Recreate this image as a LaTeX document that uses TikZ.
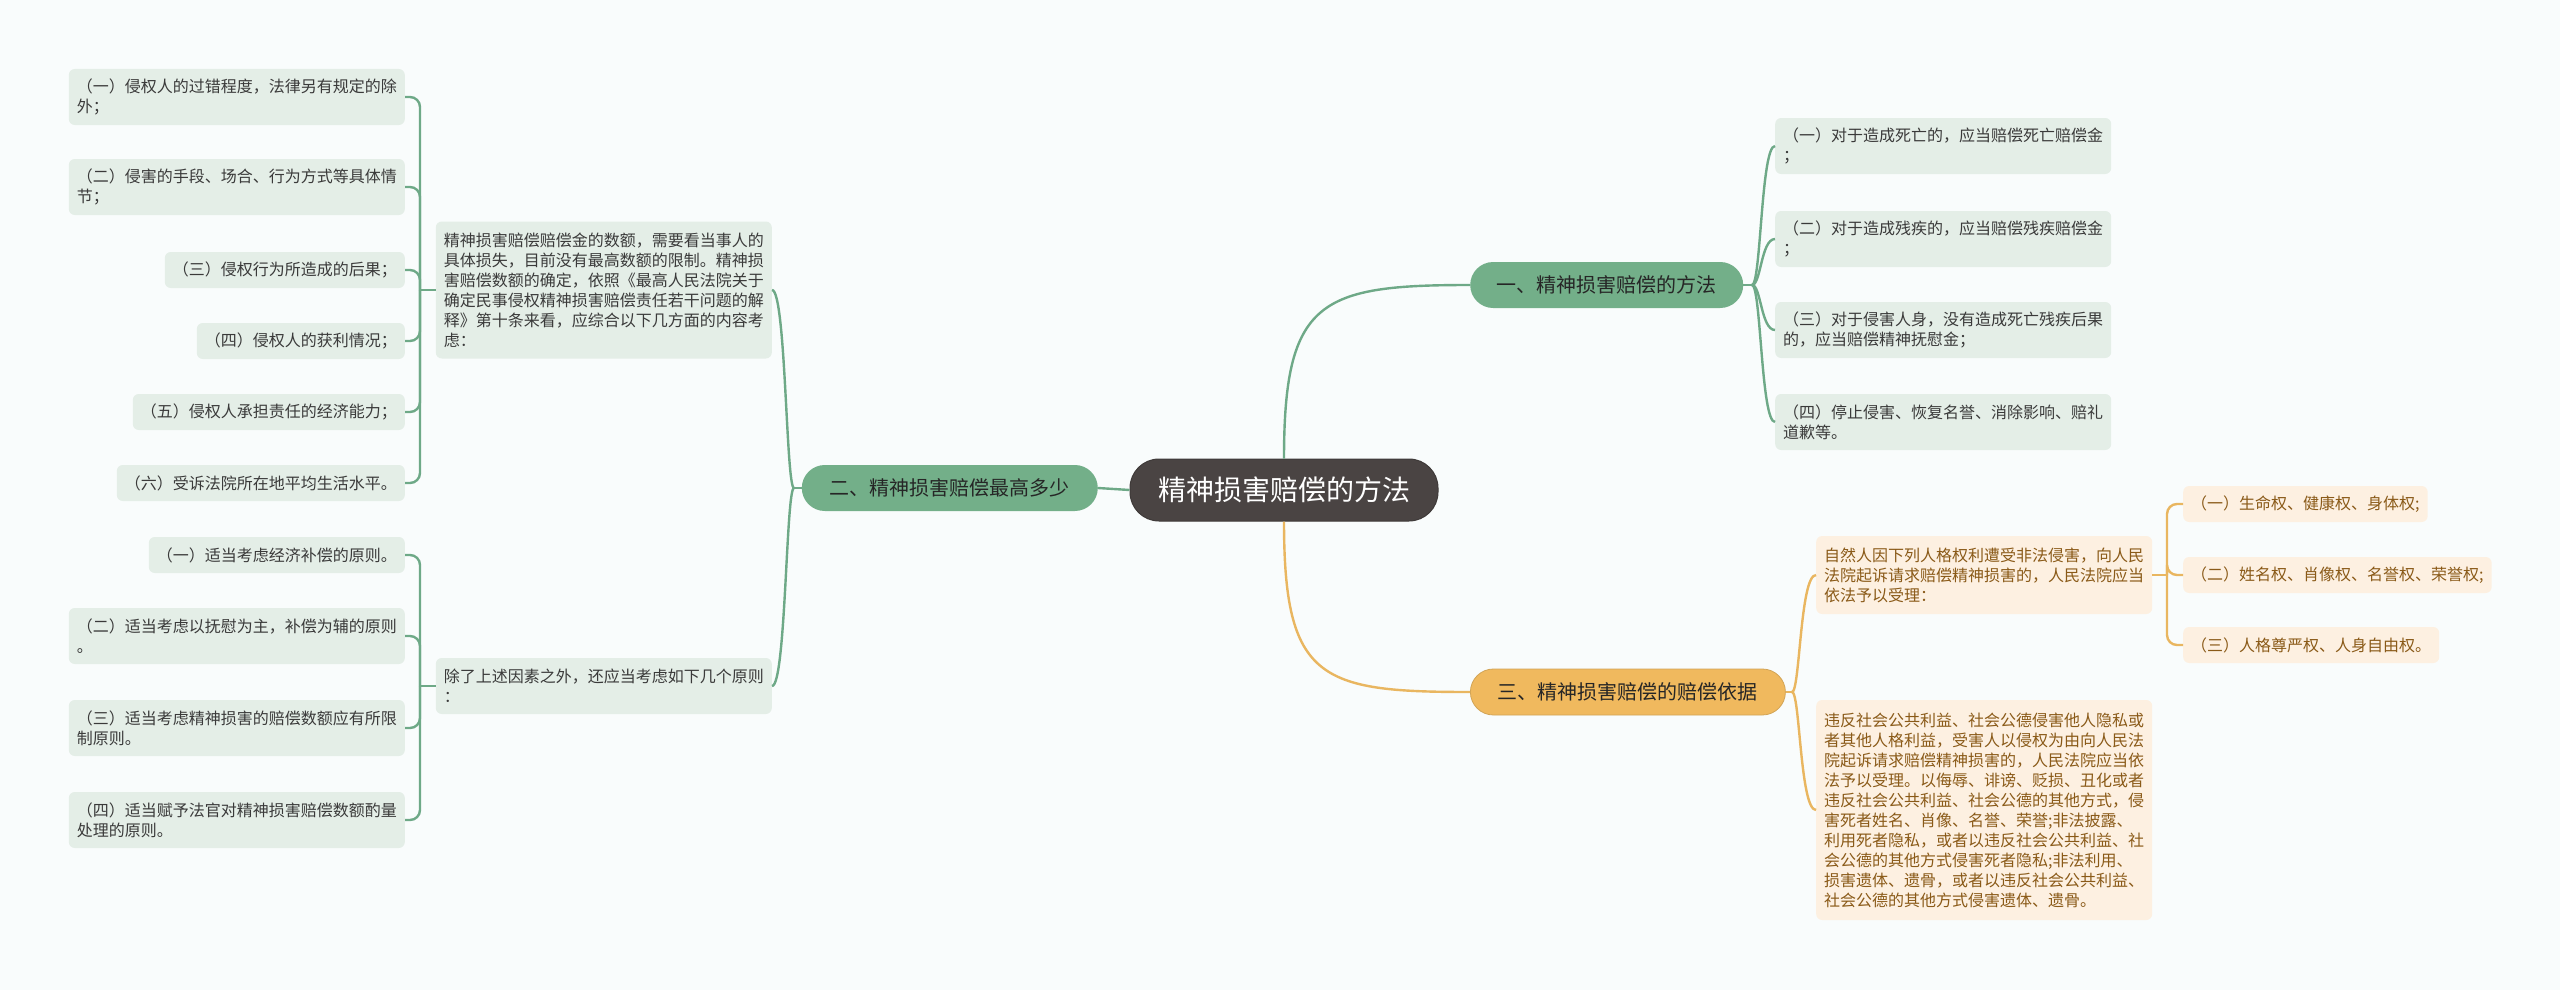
\documentclass[tikz,border=0pt]{standalone}
\usepackage{fontspec}
\setmainfont{Noto Sans CJK SC}
\definecolor{bgc}{HTML}{F9FCFC}
\definecolor{glinec}{HTML}{6EA987}
\definecolor{gbrc}{HTML}{73AF89}
\definecolor{gleafc}{HTML}{E4EEE7}
\definecolor{gtxtc}{HTML}{3A3A3A}
\definecolor{olinec}{HTML}{E9B660}
\definecolor{obrc}{HTML}{F0B95E}
\definecolor{oleafc}{HTML}{FDF0E1}
\definecolor{otxtc}{HTML}{8A5A18}
\definecolor{cdarkc}{HTML}{4A4443}
\begin{document}
\begin{tikzpicture}[x=1pt,y=-1pt,
  centernode/.style={fill=cdarkc, draw=cdarkc!85!black, line width=1pt, text=white, rounded corners=29pt, minimum width=308pt, minimum height=62pt, inner sep=0pt, font=\fontsize{28pt}{34pt}\selectfont},
  gbranch/.style={fill=gbrc, text=black!85, rounded corners=23pt, minimum width=#1, minimum height=46pt, inner sep=0pt, font=\fontsize{20pt}{24pt}\selectfont},
  obranch/.style={fill=obrc, draw=olinec!90!black, line width=0.8pt, text=black!85, rounded corners=23pt, minimum width=#1, minimum height=46pt, inner sep=0pt, font=\fontsize{20pt}{24pt}\selectfont},
  gleaf/.style={fill=gleafc, text=gtxtc, rounded corners=6pt, minimum height=#1, inner xsep=8pt, inner ysep=0pt, align=left, font=\fontsize{16pt}{20pt}\selectfont},
  gleaf/.default=36pt,
  oleaf/.style={fill=oleafc, text=otxtc, rounded corners=6pt, minimum height=#1, inner xsep=8pt, inner ysep=0pt, align=left, font=\fontsize{16pt}{20pt}\selectfont},
  oleaf/.default=36pt,
  glink/.style={draw=glinec, line width=2.4pt},
  olink/.style={draw=olinec, line width=2.4pt},
]
\useasboundingbox (0,0) rectangle (2560,990);
\fill[bgc] (0,0) rectangle (2560,990);

% nodes
\node[centernode] (cn) at (1284,490) {精神损害赔偿的方法};
\node[gbranch=273pt, anchor=west] (b1) at (1470,285) {一、精神损害赔偿的方法};
\node[gbranch=296pt, anchor=east] (b2) at (1098,488) {二、精神损害赔偿最高多少};
\node[obranch=315pt, anchor=west] (b3) at (1470,692) {三、精神损害赔偿的赔偿依据};

% branch 1 children
\node[gleaf=56pt, anchor=west] (c1) at (1775,146) {（一）对于造成死亡的，应当赔偿死亡赔偿金\\；};
\node[gleaf=56pt, anchor=west] (c2) at (1775,239) {（二）对于造成残疾的，应当赔偿残疾赔偿金\\；};
\node[gleaf=56pt, anchor=west] (c3) at (1775,330) {（三）对于侵害人身，没有造成死亡残疾后果\\的，应当赔偿精神抚慰金；};
\node[gleaf=56pt, anchor=west] (c4) at (1775,422) {（四）停止侵害、恢复名誉、消除影响、赔礼\\道歉等。};

% branch 2 children
\node[gleaf=137pt, anchor=east] (m1) at (772,290) {精神损害赔偿赔偿金的数额，需要看当事人的\\具体损失，目前没有最高数额的限制。精神损\\害赔偿数额的确定，依照《最高人民法院关于\\确定民事侵权精神损害赔偿责任若干问题的解\\释》第十条来看，应综合以下几方面的内容考\\虑：};
\node[gleaf=56pt, anchor=east] (m2) at (772,686) {除了上述因素之外，还应当考虑如下几个原则\\：};

\node[gleaf=56pt, anchor=east] (a1) at (405,97) {（一）侵权人的过错程度，法律另有规定的除\\外；};
\node[gleaf=56pt, anchor=east] (a2) at (405,187) {（二）侵害的手段、场合、行为方式等具体情\\节；};
\node[gleaf, anchor=east] (a3) at (405,270) {（三）侵权行为所造成的后果；};
\node[gleaf, anchor=east] (a4) at (405,341) {（四）侵权人的获利情况；};
\node[gleaf, anchor=east] (a5) at (405,412) {（五）侵权人承担责任的经济能力；};
\node[gleaf, anchor=east] (a6) at (405,483) {（六）受诉法院所在地平均生活水平。};

\node[gleaf, anchor=east] (e1) at (405,555) {（一）适当考虑经济补偿的原则。};
\node[gleaf=56pt, anchor=east] (e2) at (405,636) {（二）适当考虑以抚慰为主，补偿为辅的原则\\。};
\node[gleaf=56pt, anchor=east] (e3) at (405,728) {（三）适当考虑精神损害的赔偿数额应有所限\\制原则。};
\node[gleaf=56pt, anchor=east] (e4) at (405,820) {（四）适当赋予法官对精神损害赔偿数额酌量\\处理的原则。};

% branch 3 children
\node[oleaf=78pt, anchor=west] (r1) at (1816,575) {自然人因下列人格权利遭受非法侵害，向人民\\法院起诉请求赔偿精神损害的，人民法院应当\\依法予以受理：};
\node[oleaf=220pt, anchor=west] (r2) at (1816,810) {违反社会公共利益、社会公德侵害他人隐私或\\者其他人格利益，受害人以侵权为由向人民法\\院起诉请求赔偿精神损害的，人民法院应当依\\法予以受理。以侮辱、诽谤、贬损、丑化或者\\违反社会公共利益、社会公德的其他方式，侵\\害死者姓名、肖像、名誉、荣誉;非法披露、\\利用死者隐私，或者以违反社会公共利益、社\\会公德的其他方式侵害死者隐私;非法利用、\\损害遗体、遗骨，或者以违反社会公共利益、\\社会公德的其他方式侵害遗体、遗骨。};
\node[oleaf, anchor=west] (d1) at (2183,504) {（一）生命权、健康权、身体权;};
\node[oleaf, anchor=west] (d2) at (2183,575) {（二）姓名权、肖像权、名誉权、荣誉权;};
\node[oleaf, anchor=west] (d3) at (2183,645) {（三）人格尊严权、人身自由权。};

% joints
\coordinate (k1) at (1752,285);
\coordinate (k2) at (794,488);
\coordinate (k3) at (1792,692);
\coordinate (p1) at (420,290);
\coordinate (p2) at (420,686);
\coordinate (q1) at (2167,575);

% center to branches
\draw[glink] (cn.north) .. controls (1284,300) and (1320,285) .. (b1.west);
\draw[glink] (cn.west) -- (b2.east);
\draw[olink] (cn.south) .. controls (1284,680) and (1320,692) .. (b3.west);

% branch 1 curves
\draw[glink] (b1.east) -- (k1);
\draw[glink] (k1) .. controls (1761,285) and (1761,146) .. (c1.west);
\draw[glink] (k1) .. controls (1761,285) and (1761,239) .. (c2.west);
\draw[glink] (k1) .. controls (1761,285) and (1761,330) .. (c3.west);
\draw[glink] (k1) .. controls (1761,285) and (1761,422) .. (c4.west);

% branch 2 curves
\draw[glink] (b2.west) -- (k2);
\draw[glink] (k2) .. controls (786,488) and (786,290) .. (m1.east);
\draw[glink] (k2) .. controls (786,488) and (786,686) .. (m2.east);

% branch 3 curves
\draw[olink] (b3.east) -- (k3);
\draw[olink] (k3) .. controls (1800,692) and (1800,575) .. (r1.west);
\draw[olink] (k3) .. controls (1800,692) and (1800,810) .. (r2.west);

% brackets left
\draw[glink] (m1.west) -- (p1);
\foreach \n in {a1,a2,a3,a4,a5,a6} \draw[glink, rounded corners=10pt] (p1) |- (\n.east);
\draw[glink] (m2.west) -- (p2);
\foreach \n in {e1,e2,e3,e4} \draw[glink, rounded corners=10pt] (p2) |- (\n.east);

% brackets right
\draw[olink] (r1.east) -- (q1);
\foreach \n in {d1,d2,d3} \draw[olink, rounded corners=10pt] (q1) |- (\n.west);
\end{tikzpicture}
\end{document}
